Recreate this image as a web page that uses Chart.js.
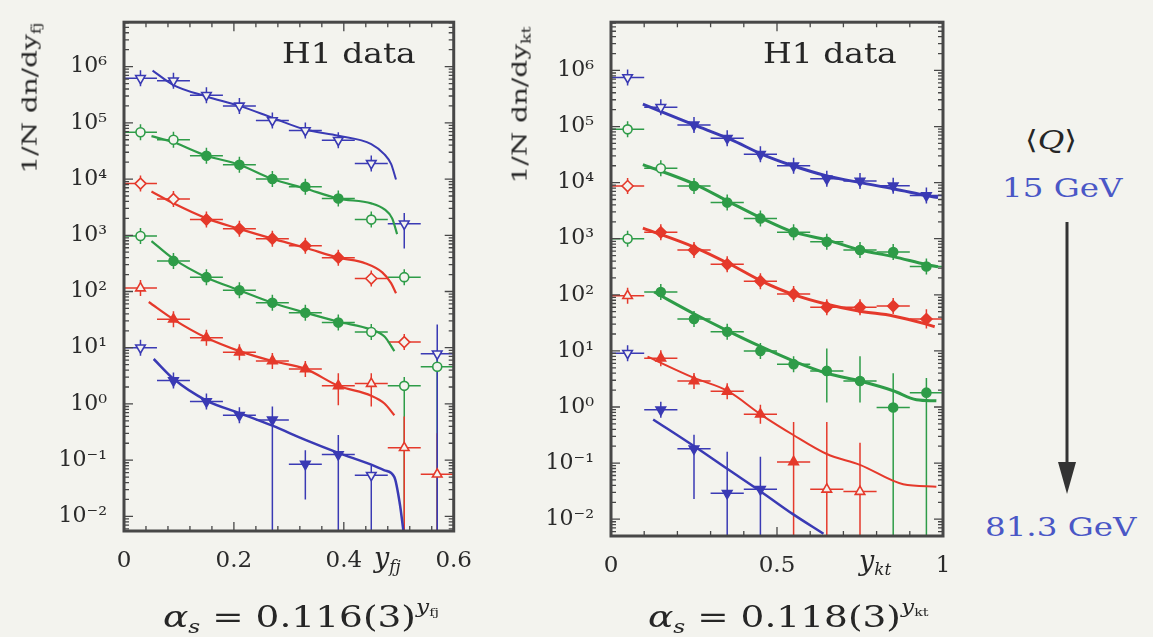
<!DOCTYPE html>
<html>
<head>
<meta charset="utf-8">
<script src="https://cdn.jsdelivr.net/npm/chart.js@4.4.1/dist/chart.umd.min.js"></script>
<style>
  body { margin: 0; background: #f3f3ee; width: 1153px; height: 637px; overflow: hidden; position: relative; font-family: "DejaVu Serif", serif; }
  canvas { position: absolute; top: 0; }
  #leftChart { left: 0; }
  #rightChart { left: 490px; }
  .lbl { position: absolute; white-space: nowrap; line-height: 1; color: #262626; transform-origin: left top; }
  .lbl sub { font-size: 0.62em; vertical-align: -0.3em; }
  .lbl sup { font-size: 0.62em; vertical-align: 0.75em; }
  .ytitle { font-size: 21px; transform: translate(-50%, -50%) rotate(-90deg) scaleX(1.33); transform-origin: center; }
  .h1 { font-size: 27px; transform: scaleX(1.22); }
  .xtitle { font-size: 27px; font-style: italic; }
  .alpha { font-size: 30px; transform: scaleX(1.25); }
  .gev { font-size: 26px; color: #4a57c6; transform: scaleX(1.25); }
  .qmean { font-size: 26px; transform: translateX(-50%) scaleX(1.25); transform-origin: center top; }
</style>
</head>
<body>
<canvas id="leftChart" width="480" height="637"></canvas>
<canvas id="rightChart" width="480" height="637"></canvas>

<div class="lbl ytitle" style="left:31px; top:98px;">1/N dn/dy<sub>fj</sub></div>
<div class="lbl ytitle" style="left:521px; top:105px;">1/N dn/dy<sub>kt</sub></div>
<div class="lbl h1" style="left:282px; top:40px;">H1 data</div>
<div class="lbl h1" style="left:763px; top:40px;">H1 data</div>
<div class="lbl xtitle" style="left:374px; top:544px;">y<sub>fj</sub></div>
<div class="lbl xtitle" style="left:859px; top:547px;">y<sub>kt</sub></div>
<div class="lbl alpha" style="left:163px; top:598px;"><i>α</i><sub><i>s</i></sub> = 0.116(3)<sup><i>y</i><sub>fj</sub></sup></div>
<div class="lbl alpha" style="left:648px; top:598px;"><i>α</i><sub><i>s</i></sub> = 0.118(3)<sup><i>y</i><sub>kt</sub></sup></div>
<div class="lbl qmean" style="left:1051px; top:127px;">⟨<i>Q</i>⟩</div>
<div class="lbl gev" style="left:1002px; top:175px;">15 GeV</div>
<div class="lbl gev" style="left:985px; top:514px;">81.3 GeV</div>
<svg style="position:absolute; left:1055px; top:222px;" width="24" height="274">
  <line x1="12" y1="0" x2="12" y2="248" stroke="#333" stroke-width="3"/>
  <polygon points="3,240 21,240 12,272" fill="#333"/>
</svg>

<script>
const BLUE = "#3a3ab4";
const GREEN = "#2e9c48";
const RED = "#e5392b";
const BG = "#f3f3ee";
const FRAME = "#474747";

// ---- left panel: y_fj ----
const leftX = [0.03, 0.09, 0.15, 0.21, 0.27, 0.33, 0.39, 0.45, 0.51, 0.57];
const leftBinHalf = 0.03;

const leftBlue1 = [6.2e5, 5.6e5, 3.1e5, 2.0e5, 1.1e5, 7.3e4, 4.9e4, 1.9e4, 1.6e3, null];
const leftBlue1Open = [1, 1, 1, 1, 1, 1, 1, 1, 1, 0];
const leftBlue1Err = { 8: [580, 2500] };

const leftGreen2 = [6.8e4, 5.0e4, 2.6e4, 1.8e4, 1.0e4, 7.3e3, 4.5e3, 1.9e3, 180, null];
const leftGreen2Open = [1, 1, 0, 0, 0, 0, 0, 1, 1, 0];
const leftGreen2Err = {};

const leftRed3 = [8.3e3, 4.4e3, 1.9e3, 1.3e3, 870, 650, 400, 170, 12.6, null];
const leftRed3Open = [1, 1, 0, 0, 0, 0, 0, 1, 1, 0];
const leftRed3Err = {};

const leftGreen4 = [970, 350, 180, 105, 63, 42, 28, 19, 2.1, 4.6];
const leftGreen4Open = [1, 0, 0, 0, 0, 0, 0, 1, 1, 1];
const leftGreen4Err = { 8: [1e-4, 3.0], 9: [1e-4, 9] };

const leftRed5 = [115, 32, 15, 8.3, 5.8, 4.2, 2.1, 2.3, 0.166, 0.056];
const leftRed5Open = [1, 0, 0, 0, 0, 0, 0, 1, 1, 1];
const leftRed5Err = { 6: [0.95, 3.5], 7: [0.9, 3.5], 8: [1e-4, 0.6], 9: [1e-4, 0.3] };

const leftBlue6 = [10, 2.6, 1.1, 0.63, 0.52, 0.085, 0.126, 0.054, null, 7.8];
const leftBlue6Open = [1, 0, 0, 0, 0, 0, 0, 1, 0, 1];
const leftBlue6Err = { 4: [1e-4, 0.9], 5: [0.02, 0.15], 6: [1e-4, 0.28], 7: [1e-4, 0.08], 9: [1e-4, 26] };

const leftCurve1X = [0.052, 0.09, 0.15, 0.21, 0.27, 0.33, 0.39, 0.45, 0.474, 0.486, 0.495];
const leftCurve1Y = [8.5e5, 4.7e5, 2.95e5, 2.0e5, 1.23e5, 7.6e4, 5.9e4, 4.2e4, 2.75e4, 1.86e4, 9.8e3];
const leftCurve2X = [0.05, 0.09, 0.15, 0.21, 0.27, 0.33, 0.39, 0.45, 0.474, 0.488, 0.497];
const leftCurve2Y = [5.8e4, 4.5e4, 2.6e4, 1.8e4, 1.0e4, 6.8e3, 4.5e3, 3.7e3, 2.9e3, 2.0e3, 1.05e3];
const leftCurve3X = [0.05, 0.09, 0.15, 0.21, 0.27, 0.33, 0.39, 0.44, 0.47, 0.486, 0.495];
const leftCurve3Y = [6.0e3, 3.7e3, 2.0e3, 1.3e3, 870, 600, 400, 316, 219, 141, 93];
const leftCurve4X = [0.05, 0.09, 0.15, 0.21, 0.27, 0.33, 0.39, 0.45, 0.474, 0.492];
const leftCurve4Y = [790, 380, 178, 105, 63, 42, 29, 21, 15.8, 8.7];
const leftCurve5X = [0.045, 0.09, 0.15, 0.21, 0.27, 0.33, 0.39, 0.45, 0.474, 0.492];
const leftCurve5Y = [65, 32, 15, 8.7, 5.8, 4.2, 2.1, 1.4, 1.02, 0.63];
const leftCurve6X = [0.054, 0.09, 0.15, 0.21, 0.27, 0.33, 0.39, 0.45, 0.474, 0.492, 0.502, 0.509];
const leftCurve6Y = [6.3, 2.8, 1.15, 0.69, 0.41, 0.23, 0.135, 0.083, 0.066, 0.05, 0.0166, 0.005];

// ---- right panel: y_kt ----
const rightX = [0.05, 0.15, 0.25, 0.35, 0.45, 0.55, 0.65, 0.75, 0.85, 0.95];
const rightBinHalf = 0.05;

const rightBlue1 = [7.5e5, 2.2e5, 1.07e5, 6.2e4, 3.2e4, 2.0e4, 1.17e4, 1.07e4, 8.8e3, 5.9e3];
const rightBlue1Open = [1, 1, 0, 0, 0, 0, 0, 0, 0, 0];
const rightBlue1Err = {};

const rightGreen2 = [8.9e4, 1.8e4, 8.7e3, 4.4e3, 2.3e3, 1.3e3, 880, 630, 580, 320];
const rightGreen2Open = [1, 1, 0, 0, 0, 0, 0, 0, 0, 0];
const rightGreen2Err = {};

const rightRed3 = [8.7e3, 1.3e3, 630, 350, 175, 103, 60, 60, 63, 37];
const rightRed3Open = [1, 0, 0, 0, 0, 0, 0, 0, 0, 0];
const rightRed3Err = { 9: [25, 55] };

const rightGreen4 = [1.0e3, 112, 37, 22, 10, 5.8, 4.4, 2.9, 0.98, 1.8];
const rightGreen4Open = [1, 0, 0, 0, 0, 0, 0, 0, 0, 0];
const rightGreen4Err = { 6: [1.2, 11], 7: [1.2, 8], 8: [1e-4, 4], 9: [1e-4, 3.3] };

const rightRed5 = [96, 7.4, 2.9, 1.9, 0.74, 0.105, 0.034, 0.031, null, null];
const rightRed5Open = [1, 0, 0, 0, 0, 0, 1, 1, 0, 0];
const rightRed5Err = { 4: [0.5, 1.1], 5: [1e-4, 0.54], 6: [1e-4, 0.54], 7: [1e-4, 0.23] };

const rightBlue6 = [9.1, 0.89, 0.18, 0.029, 0.034, null, null, null, null, null];
const rightBlue6Open = [1, 0, 0, 0, 0, 0, 0, 0, 0, 0];
const rightBlue6Err = { 2: [0.023, 0.32], 3: [1e-4, 0.16], 4: [1e-4, 0.13] };

const rightCurve1X = [0.096, 0.25, 0.36, 0.455, 0.548, 0.65, 0.75, 0.85, 0.95, 0.985];
const rightCurve1Y = [2.5e5, 1.07e5, 5.9e4, 3.2e4, 2.0e4, 1.32e4, 1.0e4, 7.8e3, 5.9e3, 5.4e3];
const rightCurve2X = [0.096, 0.25, 0.36, 0.455, 0.548, 0.65, 0.75, 0.85, 0.95, 0.985];
const rightCurve2Y = [2.1e4, 9.5e3, 4.4e3, 2.3e3, 1.32e3, 955, 630, 480, 347, 316];
const rightCurve3X = [0.096, 0.25, 0.36, 0.455, 0.548, 0.65, 0.75, 0.85, 0.95, 0.975];
const rightCurve3Y = [1.55e3, 710, 347, 174, 102, 68, 51, 42, 30, 27];
const rightCurve4X = [0.13, 0.25, 0.35, 0.45, 0.55, 0.65, 0.75, 0.85, 0.92, 0.98];
const rightCurve4Y = [112, 46, 23, 12, 6.6, 4.0, 2.9, 1.95, 1.35, 1.29];
const rightCurve5X = [0.11, 0.25, 0.35, 0.455, 0.548, 0.65, 0.75, 0.88, 0.98];
const rightCurve5Y = [7.9, 3.3, 1.95, 0.71, 0.32, 0.145, 0.093, 0.042, 0.038];
const rightCurve6X = [0.127, 0.253, 0.35, 0.455, 0.548, 0.64];
const rightCurve6Y = [0.6, 0.195, 0.079, 0.03, 0.0123, 0.0055];

const SUP = { "-": "\u207B", "0": "\u2070", "1": "\u00B9", "2": "\u00B2", "3": "\u00B3", "4": "\u2074", "5": "\u2075", "6": "\u2076", "7": "\u2077" };
const yTickFont = { family: "DejaVu Serif", size: 22 };
const xTickFont = { family: "DejaVu Serif", size: 23 };

function pointDataset(xs, ys, open, errs, color, shape, binHalf) {
  const data = [];
  xs.forEach((x, i) => {
    if (ys[i] == null) return;
    const e = errs[i];
    data.push({ x: x, y: ys[i], lo: e ? e[0] : null, hi: e ? e[1] : null, open: open[i] === 1 });
  });
  return {
    data: data,
    showLine: false,
    order: 1,
    binHalf: binHalf,
    borderColor: color,
    pointStyle: shape === "circle" ? "circle" : shape === "diamond" ? "rectRot" : "triangle",
    rotation: shape === "down" ? 180 : 0,
    pointRadius: shape === "circle" ? 4.5 : 5.5,
    pointBorderWidth: 1.6,
    pointBorderColor: color,
    pointBackgroundColor: (ctx) => (ctx.raw && ctx.raw.open ? BG : color),
  };
}

function curveDataset(xs, ys, color, width) {
  return {
    data: xs.map((x, i) => ({ x: x, y: ys[i] })),
    showLine: true,
    order: 2,
    pointRadius: 0,
    borderColor: color,
    borderWidth: width,
    cubicInterpolationMode: "monotone",
  };
}

// error bars drawn under the markers
const errorBars = {
  id: "errorBars",
  beforeDatasetsDraw(chart) {
    const { ctx, chartArea: a, scales } = chart;
    ctx.save();
    ctx.beginPath();
    ctx.rect(a.left, a.top, a.right - a.left, a.bottom - a.top);
    ctx.clip();
    ctx.lineWidth = 1.5;
    chart.data.datasets.forEach((ds) => {
      if (!ds.binHalf) return;
      ctx.strokeStyle = ds.borderColor;
      ds.data.forEach((p) => {
        const px = scales.x.getPixelForValue(p.x);
        const py = scales.y.getPixelForValue(p.y);
        ctx.beginPath();
        ctx.moveTo(scales.x.getPixelForValue(p.x - ds.binHalf), py);
        ctx.lineTo(scales.x.getPixelForValue(p.x + ds.binHalf), py);
        if (p.lo != null) {
          ctx.moveTo(px, Math.min(scales.y.getPixelForValue(p.lo), a.bottom + 5));
          ctx.lineTo(px, scales.y.getPixelForValue(p.hi));
        } else {
          ctx.moveTo(px, py - 8);
          ctx.lineTo(px, py + 8);
        }
        ctx.stroke();
      });
    });
    ctx.restore();
  },
};

// box with inward ticks on all four sides
const frame = {
  id: "frame",
  afterDraw(chart) {
    const { ctx, chartArea: a, scales } = chart;
    ctx.save();
    ctx.strokeStyle = FRAME;
    ctx.lineWidth = 1.3;
    ctx.beginPath();
    scales.x.ticks.forEach((t) => {
      const px = scales.x.getPixelForValue(t.value);
      const len = t.label ? 9 : 5;
      ctx.moveTo(px, a.bottom);
      ctx.lineTo(px, a.bottom - len);
      ctx.moveTo(px, a.top);
      ctx.lineTo(px, a.top + len);
    });
    scales.y.ticks.forEach((t) => {
      const py = scales.y.getPixelForValue(t.value);
      const len = t.label ? 9 : 5;
      ctx.moveTo(a.left, py);
      ctx.lineTo(a.left + len, py);
      ctx.moveTo(a.right, py);
      ctx.lineTo(a.right - len, py);
    });
    ctx.stroke();
    ctx.lineWidth = 3;
    ctx.strokeRect(a.left, a.top, a.right - a.left, a.bottom - a.top);
    ctx.restore();
  },
};

function isDecade(v) {
  const l = Math.log10(v);
  return Math.abs(l - Math.round(l)) < 1e-9;
}

function decadeLabel(v) {
  if (!isDecade(v)) return "";
  const e = String(Math.round(Math.log10(v)));
  return "10" + e.split("").map((c) => SUP[c]).join("");
}

function makePanel(canvasId, cfg) {
  return new Chart(document.getElementById(canvasId), {
    type: "scatter",
    data: { datasets: cfg.datasets },
    options: {
      responsive: false,
      animation: false,
      layout: { padding: cfg.padding },
      plugins: { legend: { display: false }, tooltip: { enabled: false } },
      scales: {
        x: {
          type: "linear",
          min: 0,
          max: cfg.xMax,
          grid: { display: false },
          border: { display: false },
          ticks: {
            stepSize: cfg.xStep,
            autoSkip: false,
            maxRotation: 0,
            padding: 8,
            font: xTickFont,
            color: "#2a2a2a",
            callback: (v) => {
              const r = Math.round(v * 1000) / 1000;
              const k = r / cfg.xLabelEvery;
              return Math.abs(k - Math.round(k)) < 1e-6 ? String(r) : "";
            },
          },
          afterFit: (s) => { s.height = 40; },
        },
        y: {
          type: "logarithmic",
          min: cfg.yMin,
          max: cfg.yMax,
          grid: { display: false },
          border: { display: false },
          ticks: { autoSkip: false, padding: 9, font: yTickFont, color: "#2a2a2a", callback: (v) => decadeLabel(v) },
          afterBuildTicks: (scale) => {
            const ticks = [];
            for (let e = -3; e <= 7; e++) {
              for (let m = 1; m < 10; m++) {
                const v = m * Math.pow(10, e);
                if (v >= scale.min && v <= scale.max) ticks.push({ value: v });
              }
            }
            scale.ticks = ticks;
          },
          afterFit: (s) => { s.width = 64; },
        },
      },
    },
    plugins: [errorBars, frame],
  });
}

makePanel("leftChart", {
  xMax: 0.6,
  xStep: 0.04,
  xLabelEvery: 0.2,
  yMin: Math.pow(10, -2.26),
  yMax: Math.pow(10, 6.79),
  padding: { left: 60, right: 23, top: 14, bottom: 66 },
  datasets: [
    pointDataset(leftX, leftBlue1, leftBlue1Open, leftBlue1Err, BLUE, "down", leftBinHalf),
    pointDataset(leftX, leftGreen2, leftGreen2Open, leftGreen2Err, GREEN, "circle", leftBinHalf),
    pointDataset(leftX, leftRed3, leftRed3Open, leftRed3Err, RED, "diamond", leftBinHalf),
    pointDataset(leftX, leftGreen4, leftGreen4Open, leftGreen4Err, GREEN, "circle", leftBinHalf),
    pointDataset(leftX, leftRed5, leftRed5Open, leftRed5Err, RED, "up", leftBinHalf),
    pointDataset(leftX, leftBlue6, leftBlue6Open, leftBlue6Err, BLUE, "down", leftBinHalf),
    curveDataset(leftCurve1X, leftCurve1Y, BLUE, 2),
    curveDataset(leftCurve2X, leftCurve2Y, GREEN, 2.2),
    curveDataset(leftCurve3X, leftCurve3Y, RED, 2.2),
    curveDataset(leftCurve4X, leftCurve4Y, GREEN, 2.2),
    curveDataset(leftCurve5X, leftCurve5Y, RED, 2.2),
    curveDataset(leftCurve6X, leftCurve6Y, BLUE, 2.5),
  ],
});

makePanel("rightChart", {
  xMax: 1,
  xStep: 0.1,
  xLabelEvery: 0.5,
  yMin: Math.pow(10, -2.3),
  yMax: Math.pow(10, 6.86),
  padding: { left: 57, right: 27, top: 15, bottom: 61 },
  datasets: [
    pointDataset(rightX, rightBlue1, rightBlue1Open, rightBlue1Err, BLUE, "down", rightBinHalf),
    pointDataset(rightX, rightGreen2, rightGreen2Open, rightGreen2Err, GREEN, "circle", rightBinHalf),
    pointDataset(rightX, rightRed3, rightRed3Open, rightRed3Err, RED, "diamond", rightBinHalf),
    pointDataset(rightX, rightGreen4, rightGreen4Open, rightGreen4Err, GREEN, "circle", rightBinHalf),
    pointDataset(rightX, rightRed5, rightRed5Open, rightRed5Err, RED, "up", rightBinHalf),
    pointDataset(rightX, rightBlue6, rightBlue6Open, rightBlue6Err, BLUE, "down", rightBinHalf),
    curveDataset(rightCurve1X, rightCurve1Y, BLUE, 3),
    curveDataset(rightCurve2X, rightCurve2Y, GREEN, 3),
    curveDataset(rightCurve3X, rightCurve3Y, RED, 3),
    curveDataset(rightCurve4X, rightCurve4Y, GREEN, 3),
    curveDataset(rightCurve5X, rightCurve5Y, RED, 2),
    curveDataset(rightCurve6X, rightCurve6Y, BLUE, 2.5),
  ],
});
</script>
</body>
</html>
